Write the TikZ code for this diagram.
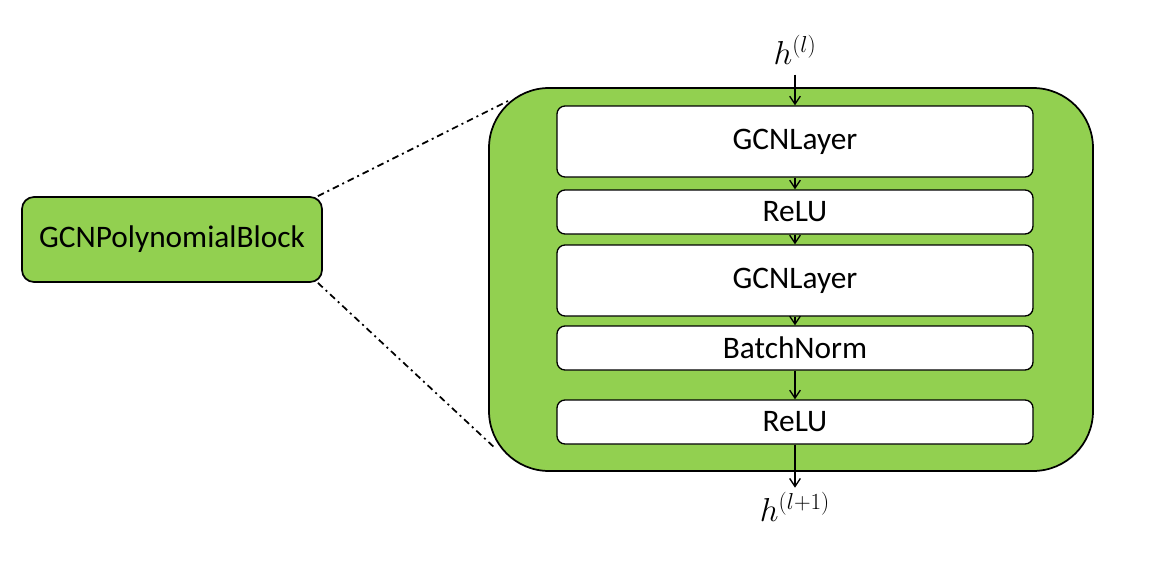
\documentclass[tikz,border=0pt]{standalone}
\usepackage{fontspec}
\setmainfont{Carlito}
\usetikzlibrary{arrows.meta,positioning,calc}
\definecolor{blockgreen}{HTML}{92D050}
\tikzset{
>={Straight Barb[length=6pt,width=8pt]},
  polyblock/.style={
    rectangle,
    rounded corners=9pt,
    fill=blockgreen,
    draw=black, line width=1.3pt,
    minimum width=225pt,
    minimum height=63.75pt,
    inner sep=0pt,
    font=\fontsize{23.5}{28}\selectfont},
  container/.style={
    rectangle,
    rounded corners=45pt,
    fill=blockgreen,
    draw=black, line width=1.3pt,
    minimum width=453pt,
    minimum height=287.25pt},
  layerbox/.style={
    rectangle,
    rounded corners=6pt,
    fill=white,
    draw=black, line width=1pt,
    minimum width=357pt,
    inner sep=0pt,
    font=\fontsize{23.5}{28}\selectfont},
  hlabel/.style={font=\fontsize{27}{32}\selectfont},
  flow/.style={draw, line width=1pt, ->},
  zoomline/.style={draw, line width=1.3pt,
    dash pattern=on 5pt off 3pt on 1.5pt off 3pt},
}

\begin{document}
\begin{tikzpicture}[x=0.75pt, y=-0.75pt]
    \useasboundingbox (0,0) rectangle (1153,565);

    % outer block
    \node[polyblock] (poly) at (172,239.5) {GCNPolynomialBlock};

    % zoomed container
    \node[container] (cont) at (791,279.5) {};
    \coordinate (ztop) at (510,100);
    \coordinate (zbot) at (496,449);

    % layers
    \node[layerbox, minimum height=53.25pt] (gcn1) at (795,141.5) {GCNLayer};
    \node[layerbox, minimum height=33pt] (relu1) at (795,212) {ReLU};
    \node[layerbox, minimum height=53.25pt] (gcn2) at (795,280.5) {GCNLayer};
    \node[layerbox, minimum height=33pt] (bnorm) at (795,348) {BatchNorm};
    \node[layerbox, minimum height=33pt] (relu2) at (795,422) {ReLU};

    % inputs and outputs
    \node[hlabel] (hin) at (795,50) {$h^{(l)}$};
    \node[hlabel] (hout) at (795,507) {$h^{(l+1)}$};

    % arrows
    \draw[flow, shorten <=4pt] (hin) -- (gcn1);
    \draw[flow] (gcn1) -- (relu1);
    \draw[flow] (relu1) -- (gcn2);
    \draw[flow] (gcn2) -- (bnorm);
    \draw[flow] (bnorm) -- (relu2);
    \draw[flow] (relu2) -- (hout);

    % zoom lines
    \draw[zoomline] ($(poly.north east)+(-5,0)$) -- (ztop);
    \draw[zoomline] ($(poly.south east)+(-5,0)$) -- (zbot);

\end{tikzpicture}
\end{document}
